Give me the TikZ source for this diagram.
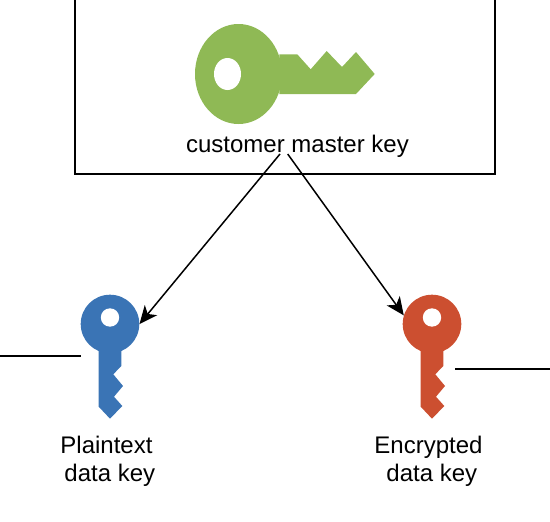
\documentclass[tikz,border=0pt]{standalone}
\usepackage{fontspec}
\setmainfont{Liberation Sans}
\usetikzlibrary{arrows.meta,shapes.geometric}
\definecolor{keygreen}{HTML}{8FB955}
\definecolor{keyblue}{HTML}{3A74B5}
\definecolor{keyred}{HTML}{CC4F30}
\tikzset{
  keyhead/.style={circle,fill=#1,draw=none,inner sep=0pt,minimum size=58.6pt},
  keyhole/.style={circle,fill=white,draw=none,inner sep=0pt,minimum size=18.4pt},
  conn/.style={line width=1.5pt,black},
  arrowconn/.style={conn,-{Stealth[length=18pt,width=16pt,inset=5pt]}},
  lbl/.style={font=\fontsize{24pt}{28pt}\selectfont,align=center,inner sep=0pt,text=black},
}
\begin{document}
\begin{tikzpicture}[x=1pt,y=-1pt]
\useasboundingbox (0,0) rectangle (550,522);
\draw[conn] (75,0) -- (75,174) -- (495,174) -- (495,0);
% green key
\fill[keygreen] (279.3,54.3) -- (297.3,54.3) -- (310.7,69.3) -- (326.7,51) -- (342,67) -- (356,52) -- (374.7,74) -- (356,94) -- (279.3,94) -- cycle;
\node[ellipse,fill=keygreen,draw=none,inner sep=0pt,minimum width=87pt,minimum height=100pt] (masterhead) at (238.5,74) {};
\node[ellipse,fill=white,draw=none,inner sep=0pt,minimum width=27pt,minimum height=32pt] (masterhole) at (227.5,74) {};
\node[lbl] (masterlabel) at (297.5,146.5) {customer master key};
% blue key
\fill[keyblue] (121.3,350) -- (121.3,366) -- (113.3,374.3) -- (123,386) -- (114,396.7) -- (122.3,406) -- (110,418.7) -- (98.7,406.7) -- (98.7,350) -- cycle;
\node[keyhead=keyblue] (bluehead) at (110,324) {};
\node[keyhole] (bluehole) at (110,317.5) {};
\node[lbl] (bluelabel) at (106.5,461.5) {Plaintext\\ \hspace*{0.278em}data key};
% red key
\fill[keyred] (443.3,350) -- (443.3,366) -- (435.3,374.3) -- (445,386) -- (436,396.7) -- (444.3,406) -- (432,418.7) -- (420.7,406.7) -- (420.7,350) -- cycle;
\node[keyhead=keyred] (redhead) at (432,324) {};
\node[keyhole] (redhole) at (432,317.5) {};
\node[lbl] (redlabel) at (428.5,461.5) {Encrypted\\ \hspace*{0.278em}data key};
% connectors
\coordinate (leftstart) at (280,154);
\coordinate (rightstart) at (287.7,154);
\coordinate (bluefree) at (0,356);
\coordinate (blueend) at (80.5,356);
\coordinate (redfree) at (550,369);
\coordinate (redend) at (455,369);
\draw[arrowconn] (leftstart) -- (bluehead.east);
\draw[arrowconn] (rightstart) -- (redhead.163);
\draw[conn] (bluefree) -- (blueend);
\draw[conn] (redend) -- (redfree);
\end{tikzpicture}
\end{document}
